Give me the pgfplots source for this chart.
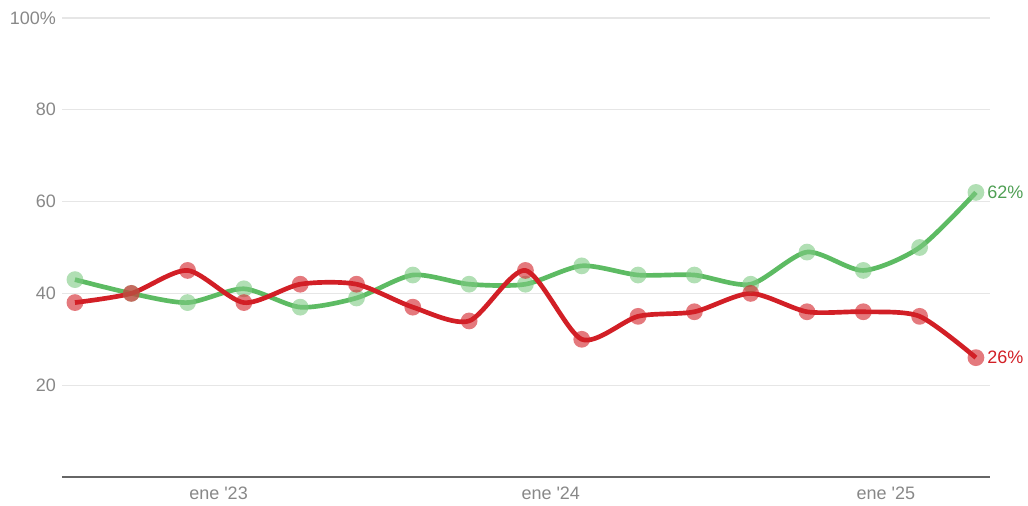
\documentclass[border=0pt]{standalone}
\usepackage{fontspec}
\setmainfont{Liberation Sans}
\usepackage{pgfplots}
\pgfplotsset{compat=1.18}
\definecolor{gline}{HTML}{5DBB63}
\definecolor{rline}{HTML}{D21F26}
\definecolor{ticklab}{HTML}{888888}
\definecolor{gridc}{HTML}{E6E6E6}
\begin{document}
\begin{tikzpicture}
\begin{axis}[
  scale only axis,
  width=696pt, height=344.25pt,
  xmin=-0.23, xmax=16.25,
  ymin=0, ymax=100,
  axis line style={draw=none},
  clip=false,
  ytick={20,40,60,80,100},
  yticklabels={20,40,60,80,100\%},
  xtick={2.55,8.45,14.4},
  xticklabels={ene \textquotesingle 23,ene \textquotesingle 24,ene \textquotesingle 25},
  major tick length=0pt,
  ymajorgrids,
  grid style={gridc, line width=0.8pt},
  tick label style={font=\fontsize{13.5}{15}\selectfont, text=ticklab},
  /pgf/number format/assume math mode=true,
  yticklabel style={anchor=east, xshift=-1pt},
  xticklabel style={yshift=-4pt},
]
\draw[color=black!60, line width=1.2pt] (axis cs:-0.23,0) -- (axis cs:16.25,0);
\addplot[gline, line width=3.5pt, smooth, tension=0.45,
  mark=*, mark size=6.3pt, mark options={solid, line width=0pt, draw opacity=0, fill=gline!80!white, fill opacity=0.6}]
  coordinates {(0,43)(1,40)(2,38)(3,41)(4,37)(5,39)(6,44)(7,42)(8,42)(9,46)(10,44)(11,44)(12,42)(13,49)(14,45)(15,50)(16,62)};
\addplot[rline, line width=3.5pt, smooth, tension=0.45,
  mark=*, mark size=6.3pt, mark options={solid, line width=0pt, draw opacity=0, fill=rline, fill opacity=0.6}]
  coordinates {(0,38)(1,40)(2,45)(3,38)(4,42)(5,42)(6,37)(7,34)(8,45)(9,30)(10,35)(11,36)(12,40)(13,36)(14,36)(15,35)(16,26)};
\node[anchor=west, text=gline!85!black, font=\fontsize{13.5}{15}\selectfont, xshift=5pt] at (axis cs:16,62) {62\%};
\node[anchor=west, text=rline, font=\fontsize{13.5}{15}\selectfont, xshift=5pt] at (axis cs:16,26) {26\%};
\end{axis}
\pgfresetboundingbox
\useasboundingbox (-46.5pt,-21.75pt) rectangle (724.5pt,357.75pt);
\end{tikzpicture}
\end{document}
